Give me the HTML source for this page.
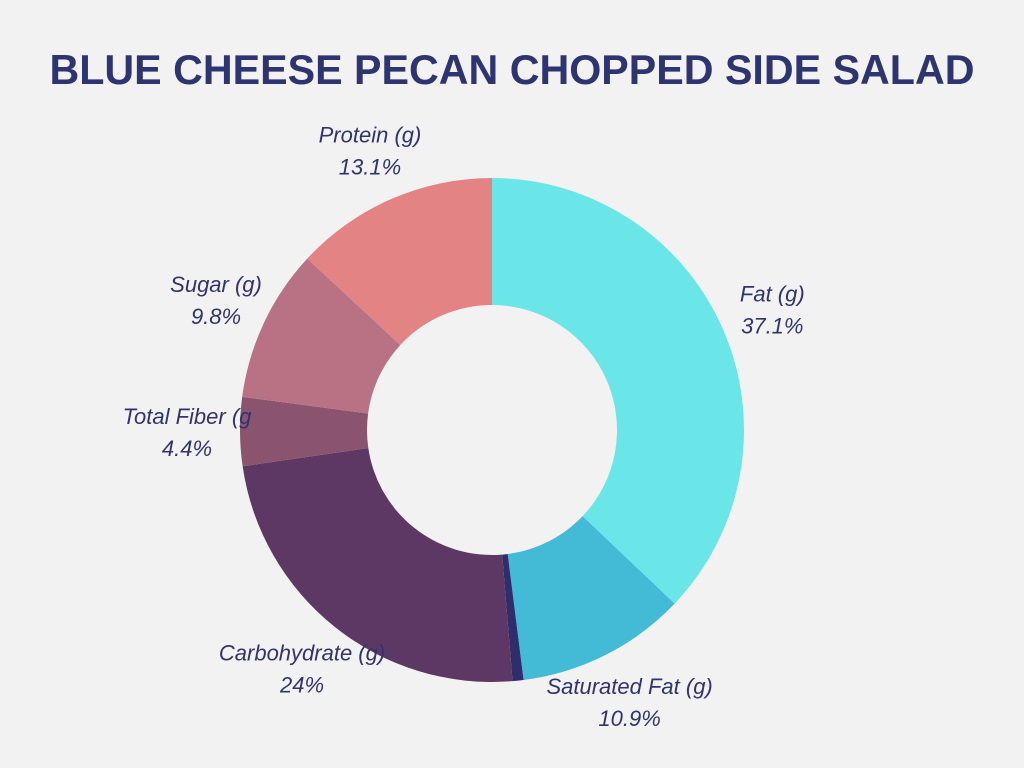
<!DOCTYPE html>
<html><head><meta charset="utf-8"><style>
html,body{margin:0;padding:0;background:#f2f2f2;}
svg{display:block;}
text{font-family:"Liberation Sans",sans-serif;fill:#2e3470;}
</style></head><body>
<svg width="1024" height="768">
<text x="512" y="84" text-anchor="middle" font-size="42" font-weight="bold" textLength="925" lengthAdjust="spacingAndGlyphs">BLUE CHEESE PECAN CHOPPED SIDE SALAD</text>
<g id="slices"></g>
<g id="labels"></g>
</svg>
<script>
const categories = ["Fat (g)","Saturated Fat (g)","Cholesterol","Carbohydrate (g)","Total Fiber (g","Sugar (g)","Protein (g)"];
const values = [37.1,10.9,0.7,24,4.4,9.8,13.1];
const valueLabels = ["37.1%","10.9%","","24%","4.4%","9.8%","13.1%"];
const colors = ["#6ae6e8","#43bad6","#2f2d6b","#5e3864","#8a546f","#b87284","#e38383"];
const cx=492, cy=430, R=252, r=125, LR=305;
const ns="http://www.w3.org/2000/svg";
const total=values.reduce((a,b)=>a+b,0);
function pt(a,rad){return [cx+rad*Math.sin(a), cy-rad*Math.cos(a)];}
let acc=0;
const gs=document.getElementById('slices'), gl=document.getElementById('labels');
values.forEach((v,i)=>{
  const a0=acc/total*2*Math.PI; acc+=v; const a1=acc/total*2*Math.PI;
  const large=(a1-a0)>Math.PI?1:0;
  const [x0,y0]=pt(a0,R),[x1,y1]=pt(a1,R),[x2,y2]=pt(a1,r),[x3,y3]=pt(a0,r);
  const p=document.createElementNS(ns,'path');
  p.setAttribute('d',`M${x0},${y0}A${R},${R} 0 ${large} 1 ${x1},${y1}L${x2},${y2}A${r},${r} 0 ${large} 0 ${x3},${y3}Z`);
  p.setAttribute('fill',colors[i]);
  
  
  gs.appendChild(p);
  if(!valueLabels[i]) return;
  const am=(a0+a1)/2; const [lx,ly]=pt(am,LR);
  const t=document.createElementNS(ns,'text');
  t.setAttribute('x',lx); t.setAttribute('y',ly-8);
  t.setAttribute('text-anchor','middle'); t.setAttribute('font-size','22'); t.setAttribute('font-style','italic');
  t.textContent=categories[i];
  
  
  gl.appendChild(t);
  const t2=document.createElementNS(ns,'text');
  t2.setAttribute('x',lx); t2.setAttribute('y',ly+24);
  t2.setAttribute('text-anchor','middle'); t2.setAttribute('font-size','22'); t2.setAttribute('font-style','italic');
  t2.textContent=valueLabels[i];
  
  
  gl.appendChild(t2);
});
</script>
</body></html>
